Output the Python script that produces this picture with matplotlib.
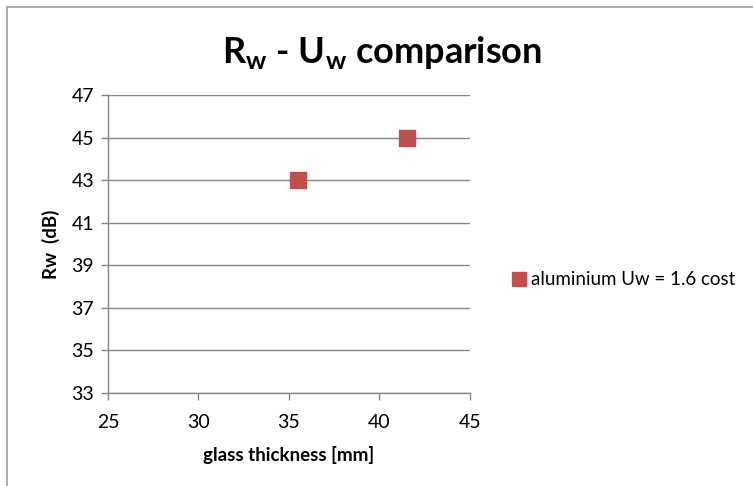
import matplotlib.pyplot as plt
from matplotlib.lines import Line2D

plt.rcParams['font.family'] = ['Lato', 'DejaVu Sans']
plt.rcParams['mathtext.fontset'] = 'custom'
plt.rcParams['mathtext.bf'] = 'Lato:bold'
plt.rcParams['mathtext.rm'] = 'Lato'

# data
thickness = [35.5, 41.5]
rw = [43, 45]
series_name = 'aluminium Uw = 1.6 cost'
x_ticks = [25, 30, 35, 40, 45]
y_ticks = [33, 35, 37, 39, 41, 43, 45, 47]

red = '#c0504d'
grey = '#868686'

fig = plt.figure(figsize=(7.53, 4.86), dpi=100)
ax = fig.add_axes([0.1434, 0.1914, 0.4806, 0.6131])

ax.scatter(thickness, rw, marker='s', s=120, color=red, zorder=3, label=series_name)

ax.set_xlim(25, 45)
ax.set_ylim(33, 47)
ax.set_xticks(x_ticks)
ax.set_yticks(y_ticks)
ax.tick_params(labelsize=14, color=grey, direction='out', length=5, width=1)
ax.tick_params(axis='x', pad=10)
ax.tick_params(axis='y', pad=5)
ax.yaxis.grid(True, color=grey, linewidth=1)
ax.set_axisbelow(True)
for s in ['top', 'right']:
    ax.spines[s].set_visible(False)
for s in ['left', 'bottom']:
    ax.spines[s].set_color(grey)
    ax.spines[s].set_linewidth(1)

ax.set_xlabel('glass thickness [mm]', fontsize=13.5, fontweight='bold', va='center', ha='center')
ax.xaxis.set_label_coords(0.5, -0.208)
fig.text(0.068, 0.498, 'Rw  (dB)', rotation=90, fontsize=13.5, fontweight='bold',
         ha='center', va='center')

fig.text(0.508, 0.892, r'R$_\mathbf{w}$ - U$_\mathbf{w}$ comparison',
         ha='center', va='center', fontsize=26, fontweight='bold')

handle = Line2D([], [], marker='s', linestyle='none', color=red, markersize=10)
fig.legend([handle], [series_name], loc='center left', bbox_to_anchor=(0.655, 0.424),
           frameon=False, fontsize=13.5, handletextpad=0.1, handlelength=1.0)

# chart border (top and left visible)
fig.add_artist(Line2D([0.009, 1.0], [0.986, 0.986], color='#a0a0a0', linewidth=1.2))
fig.add_artist(Line2D([0.009, 0.009], [0.0, 0.986], color='#a0a0a0', linewidth=1.2))

fig.savefig('out.png', dpi=100)
